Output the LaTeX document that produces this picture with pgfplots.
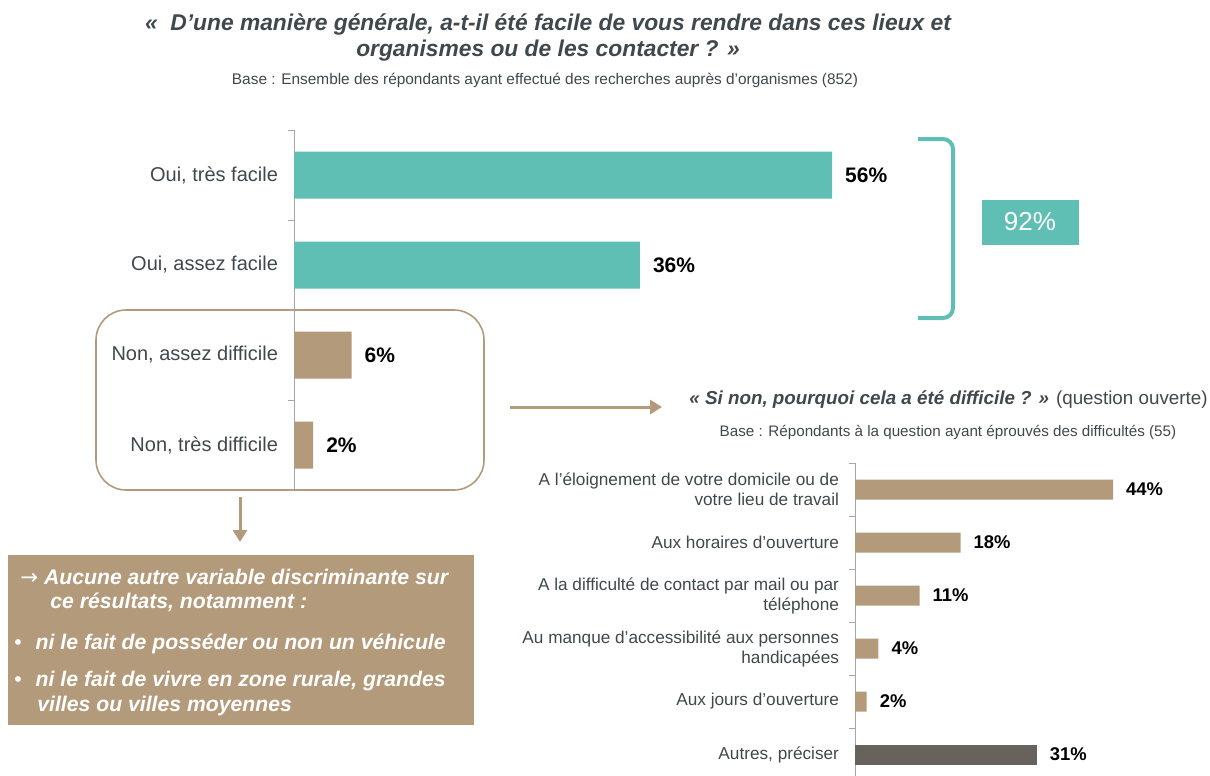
\documentclass[border=0pt]{standalone}
\usepackage{fontspec}
\setmainfont{Liberation Sans}
\newfontfamily\dejavu{DejaVu Sans}
\usepackage{pgfplots}
\pgfplotsset{compat=1.18}
\usetikzlibrary{arrows.meta}

\definecolor{tealc}{HTML}{5FBFB4}
\definecolor{tanc}{HTML}{B39A7A}
\definecolor{darkc}{HTML}{67625C}
\definecolor{txtc}{HTML}{3F484C}
\definecolor{axc}{HTML}{A6A6A6}

\pgfplotsset{
  hbar/.style={
    xbar, bar shift=0pt, scale only axis, clip=false,
    xmin=0, xmax=60, y dir=reverse,
    axis x line=none, axis y line*=left,
    axis line style={axc, line width=0.5pt},
    major tick length=0pt, minor tick length=3pt, tick align=outside,
    minor tick style={axc, line width=0.5pt},
    yticklabel style={text=txtc, align=right, xshift=-4.5pt},
    point meta=x,
    nodes near coords={\pgfmathprintnumber{\pgfplotspointmeta}\%},
    /pgf/number format/assume math mode=true,
  },
}

\begin{document}
\begin{tikzpicture}[x=0.5pt,y=-0.5pt]
\useasboundingbox (0,0) rectangle (1210,776);

% titles
\node[font=\fontsize{11.4}{13}\selectfont\bfseries\itshape, text=txtc] at (548,25)
  {«\ \ D’une manière générale, a-t-il été facile de vous rendre dans ces lieux et};
\node[font=\fontsize{11.4}{13}\selectfont\bfseries\itshape, text=txtc] at (548,51)
  {organismes ou de les contacter ? »};
\node[font=\fontsize{7.7}{9}\selectfont, text=txtc] at (545,80)
  {Base : Ensemble des répondants ayant effectué des recherches auprès d’organismes (852)};

% frame around the "non" answers
\draw[tanc, line width=0.8pt, rounded corners=15pt] (96,310) rectangle (484,490);

% first chart
\begin{axis}[hbar, at={(147pt,-65pt)}, anchor=north west,
  width=288.3pt, height=180pt, ymin=0.5, ymax=4.5, bar width=23.5pt,
  ytick={1,2,3,4}, minor ytick={0.5,1.5,2.5,3.5,4.5},
  yticklabels={{Oui, très facile}, {Oui, assez facile}, {Non, assez difficile}, {Non, très difficile}},
  yticklabel style={font=\fontsize{10}{12}\selectfont},
  nodes near coords style={anchor=west, xshift=3pt, black, font=\fontsize{10.5}{12}\selectfont\bfseries}]
\addplot[fill=tealc, draw=none] coordinates {(56,1) (36,2)};
\addplot[fill=tanc, draw=none] coordinates {(6,3) (2,4)};
\end{axis}

% bracket and total
\draw[tealc, line width=2pt, rounded corners=5pt] (918,139) -- (953,139) -- (953,318) -- (918,318);
\node[fill=tealc, text=white, minimum width=48.5pt, minimum height=22.5pt,
  font=\fontsize{13}{15}\selectfont] at (1030,222) {92\%};

% arrows
\draw[tanc, line width=1.5pt, -{Triangle[length=6pt,width=7pt]}] (510,407) -- (662,407);
\draw[tanc, line width=1.5pt, -{Triangle[length=6pt,width=7pt]}] (240,497) -- (240,542);

% comment box
\fill[tanc] (8,555) rectangle (474,725);
\begin{scope}[every node/.style={anchor=west, inner sep=0pt, text=white,
    font=\fontsize{10.6}{12}\selectfont\bfseries\itshape}]
\node at (20,577) {{\dejavu\mdseries\upshape →} Aucune autre variable discriminante sur};
\node at (50,602) {ce résultats, notamment :};
\node at (14,644) {{\mdseries\upshape •}\hspace{4pt} ni le fait de posséder ou non un véhicule};
\node at (14,681) {{\mdseries\upshape •}\hspace{4pt} ni le fait de vivre en zone rurale, grandes};
\node at (37,706) {villes ou villes moyennes};
\end{scope}

% second question
\node[anchor=east, inner sep=0pt, text=txtc, font=\fontsize{9.4}{11}\selectfont] at (1208,400)
  {{\bfseries\itshape « Si non, pourquoi cela a été difficile ? »} (question ouverte)};
\node[text=txtc, font=\fontsize{7.6}{9}\selectfont] at (948,432)
  {Base : Répondants à la question ayant éprouvés des difficultés (55)};

% second chart
\begin{axis}[hbar, at={(427.5pt,-231.5pt)}, anchor=north west,
  width=176pt, height=159pt, ymin=0.5, ymax=6.5, bar width=10pt,
  ytick={1,...,6}, minor ytick={0.5,1.5,...,6.5},
  yticklabels={{A l'éloignement de votre domicile ou de\\votre lieu de travail},
    {Aux horaires d'ouverture},
    {A la difficulté de contact par mail ou par\\téléphone},
    {Au manque d'accessibilité aux personnes\\handicapées},
    {Aux jours d'ouverture}, {Autres, préciser}},
  yticklabel style={font=\fontsize{8.6}{10}\selectfont},
  nodes near coords style={anchor=west, xshift=3pt, black, font=\fontsize{9.2}{11}\selectfont\bfseries}]
\addplot[fill=tanc, draw=none] coordinates {(44,1) (18,2) (11,3) (4,4) (2,5)};
\addplot[fill=darkc, draw=none] coordinates {(31,6)};
\end{axis}
\end{tikzpicture}
\end{document}
